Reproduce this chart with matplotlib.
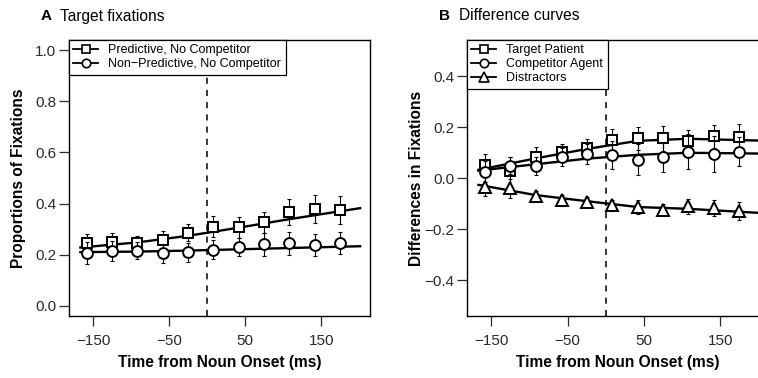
import numpy as np
import matplotlib
matplotlib.use("Agg")
import matplotlib.pyplot as plt

plt.rcParams['font.family'] = ['Liberation Sans', 'DejaVu Sans']

# time bins (ms from noun onset)
time_ms = [-158, -125, -92, -58, -25, 8, 42, 75, 108, 142, 175]
fit_ms = [-167, -92, -25, 42, 108, 201]

# panel A: target fixations
pred_mean = [0.247, 0.251, 0.245, 0.257, 0.286, 0.310, 0.307, 0.326, 0.366, 0.378, 0.375]
pred_se = [0.035, 0.035, 0.030, 0.036, 0.034, 0.042, 0.042, 0.042, 0.050, 0.055, 0.055]
pred_fit = [0.228, 0.248, 0.274, 0.306, 0.339, 0.382]
nonpred_mean = [0.206, 0.216, 0.216, 0.206, 0.210, 0.219, 0.229, 0.241, 0.245, 0.238, 0.245]
nonpred_se = [0.042, 0.039, 0.034, 0.037, 0.037, 0.037, 0.035, 0.045, 0.045, 0.043, 0.042]
nonpred_fit = [0.210, 0.212, 0.216, 0.221, 0.226, 0.233]

# panel B: difference curves
patient_mean = [0.052, 0.027, 0.082, 0.102, 0.118, 0.152, 0.157, 0.157, 0.148, 0.165, 0.161]
patient_se = [0.045, 0.057, 0.040, 0.034, 0.036, 0.042, 0.045, 0.050, 0.040, 0.045, 0.052]
patient_fit = [0.033, 0.078, 0.115, 0.147, 0.155, 0.148]
agent_mean = [0.026, 0.050, 0.047, 0.082, 0.096, 0.092, 0.073, 0.082, 0.105, 0.096, 0.105]
agent_se = [0.040, 0.035, 0.036, 0.035, 0.040, 0.055, 0.062, 0.058, 0.070, 0.070, 0.058]
agent_fit = [0.030, 0.055, 0.077, 0.092, 0.100, 0.097]
distr_mean = [-0.033, -0.039, -0.071, -0.087, -0.094, -0.107, -0.114, -0.123, -0.110, -0.118, -0.127]
distr_se = [0.036, 0.037, 0.020, 0.020, 0.020, 0.022, 0.027, 0.023, 0.030, 0.032, 0.035]
distr_fit = [-0.026, -0.066, -0.090, -0.113, -0.120, -0.136]

W, H = 758, 378
fig = plt.figure(figsize=(W / 100, H / 100), dpi=100)
axA = fig.add_axes([69 / W, 1 - 316 / H, 301 / W, 276 / H])
axB = fig.add_axes([467 / W, 1 - 316 / H, 302 / W, 276 / H])


def draw_series(ax, mean, se, fit, marker, ms, z, label):
    ax.plot(fit_ms, fit, color='black', lw=1.7, zorder=2)
    ax.errorbar(time_ms, mean, yerr=se, fmt='none', ecolor='black',
                elinewidth=0.8, capsize=1.5, capthick=0.8, zorder=z)
    ax.plot(time_ms, mean, ls='none', marker=marker, ms=ms, mfc='white',
            mec='black', mew=1.4, zorder=z + 0.5)
    # legend proxy: line + marker
    ax.plot([], [], color='black', lw=1.3, marker=marker, ms=ms * 0.78,
            mfc='white', mec='black', mew=1.2, label=label)


def style_axes(ax, ylim, yticks, ylabel):
    ax.set_xlim(-182, 214)
    ax.set_ylim(*ylim)
    ax.set_xticks([-150, -50, 50, 150])
    ax.set_xticklabels(['\u2212150', '\u221250', '50', '150'])
    ax.set_yticks(yticks)
    ax.set_yticklabels([f'{v:.1f}'.replace('-', '\u2212') for v in yticks])
    ax.tick_params(axis='both', direction='out', length=7, width=0.9,
                   labelsize=11, colors='#2a2a2a')
    ax.tick_params(axis='x', pad=6)
    ax.tick_params(axis='y', pad=2)
    for s in ax.spines.values():
        s.set_linewidth(1.0)
    ax.axvline(0, color='black', lw=1.1, ls=(0, (4, 4)), zorder=1)
    ax.set_xlabel('Time from Noun Onset (ms)', fontsize=11.2, fontweight='bold')
    ax.xaxis.set_label_coords(0.5, -0.17)
    ax.xaxis.label.set_va('center')
    ax.set_ylabel(ylabel, fontsize=11.2, fontweight='bold')
    ax.yaxis.label.set_va('center')


# Panel A
draw_series(axA, pred_mean, pred_se, pred_fit, 's', 7, 3, 'Predictive, No Competitor')
draw_series(axA, nonpred_mean, nonpred_se, nonpred_fit, 'o', 7.8, 4,
            'Non\u2212Predictive, No Competitor')
style_axes(axA, (-0.04, 1.04), [0.0, 0.2, 0.4, 0.6, 0.8, 1.0], 'Proportions of Fixations')
axA.yaxis.set_label_coords(-0.169, 0.5)

# Panel B
draw_series(axB, patient_mean, patient_se, patient_fit, 's', 7, 3, 'Target Patient')
draw_series(axB, agent_mean, agent_se, agent_fit, 'o', 7.8, 4, 'Competitor Agent')
draw_series(axB, distr_mean, distr_se, distr_fit, '^', 9, 5, 'Distractors')
style_axes(axB, (-0.541, 0.543), [-0.4, -0.2, 0.0, 0.2, 0.4], 'Differences in Fixations')
axB.yaxis.set_label_coords(-0.166, 0.5)

for ax in (axA, axB):
    leg = ax.legend(loc='upper left', bbox_to_anchor=(0, 1), borderaxespad=0,
                    fontsize=9, handlelength=2.0, handletextpad=0.8,
                    labelspacing=0.15, borderpad=0.35, fancybox=False,
                    framealpha=1, edgecolor='black')
    leg.get_frame().set_linewidth(0.9)
    leg.set_zorder(10)

# panel titles
fig.text(40.7 / W, 1 - 16 / H, 'A', fontsize=11, fontweight='bold', va='center')
fig.text(60.5 / W, 1 - 16 / H, 'Target fixations', fontsize=11.2, va='center')
fig.text(439.3 / W, 1 - 16 / H, 'B', fontsize=11, fontweight='bold', va='center')
fig.text(459.3 / W, 1 - 16 / H, 'Difference curves', fontsize=11.2, va='center')

fig.savefig('out.png', dpi=100)
